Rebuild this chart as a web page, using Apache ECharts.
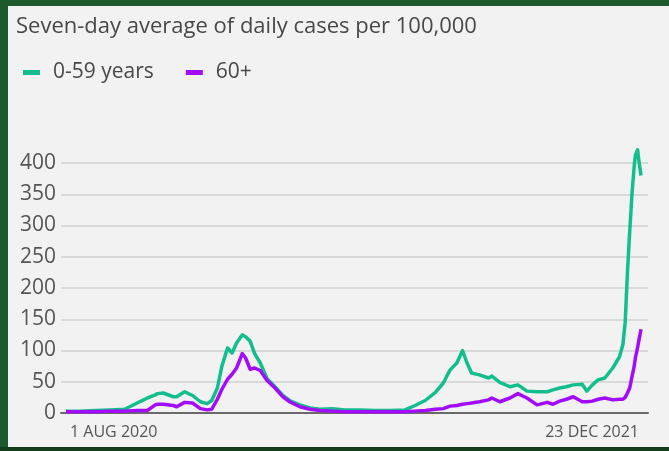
<!DOCTYPE html>
<html>
<head>
<meta charset="utf-8">
<script src="https://cdn.jsdelivr.net/npm/echarts@6/dist/echarts.min.js"></script>
<style>
  html, body { margin: 0; padding: 0; }
  body { width: 669px; height: 451px; background: #1c5a2d; position: relative; overflow: hidden; }
  #panel { position: absolute; left: 8px; top: 6px; width: 661px; height: 441px; background: #f2f2f2; }
  #strip { position: absolute; left: 0; top: 447px; width: 669px; height: 4px; background: #143d1e; }
  #chart { position: absolute; left: 0; top: 0; width: 669px; height: 451px; }
</style>
</head>
<body>
<div id="panel"></div>
<div id="strip"></div>
<div id="chart"></div>
<script>
const dates = [
  '2020-08-01', '2020-08-13', '2020-08-27', '2020-09-09', '2020-09-22', '2020-10-03',
  '2020-10-12', '2020-10-19', '2020-10-21', '2020-10-26', '2020-11-04', '2020-11-07',
  '2020-11-14', '2020-11-21', '2020-11-28', '2020-12-04', '2020-12-08', '2020-12-13',
  '2020-12-17', '2020-12-22', '2020-12-26', '2020-12-30', '2021-01-04', '2021-01-07',
  '2021-01-11', '2021-01-15', '2021-01-20', '2021-01-26', '2021-02-02', '2021-02-09',
  '2021-02-15', '2021-02-24', '2021-03-05', '2021-03-14', '2021-03-25', '2021-04-05',
  '2021-04-18', '2021-05-02', '2021-05-15', '2021-05-28', '2021-06-06', '2021-06-15',
  '2021-06-24', '2021-07-01', '2021-07-07', '2021-07-13', '2021-07-18', '2021-07-22',
  '2021-07-26', '2021-08-02', '2021-08-10', '2021-08-13', '2021-08-20', '2021-08-29',
  '2021-09-05', '2021-09-13', '2021-09-22', '2021-10-01', '2021-10-06', '2021-10-12',
  '2021-10-18', '2021-10-24', '2021-11-01', '2021-11-05', '2021-11-10', '2021-11-15',
  '2021-11-21', '2021-11-28', '2021-12-04', '2021-12-07', '2021-12-09', '2021-12-11',
  '2021-12-13', '2021-12-15', '2021-12-17', '2021-12-18', '2021-12-20', '2021-12-21',
  '2021-12-23'
];
// 0-59 years
const young = [
  3, 3, 4, 5, 6, 16,
  24, 29, 31, 32, 26, 26,
  34, 28, 18, 15, 20, 40,
  75, 104, 96, 112, 125, 122,
  115, 95, 80, 55, 42, 28,
  20, 13, 8, 6, 7, 5,
  5, 4, 4, 5, 12, 20,
  33, 48, 69, 80, 100, 80,
  64, 61, 56, 59, 49, 42,
  45, 35, 34, 34, 37, 40,
  42, 45, 46, 35, 45, 53,
  56, 72, 90, 110, 145, 225,
  290, 350, 395, 412, 421, 405,
  380
];
// 60+
const older = [
  2, 2, 2, 3, 3, 4,
  4, 13, 14, 14, 12, 10,
  17, 16, 7, 5, 6, 22,
  38, 54, 62, 72, 95, 88,
  70, 72, 68, 52, 40, 26,
  18, 10, 6, 4, 3, 2,
  2, 2, 2, 2, 3, 4,
  6, 7, 11, 12, 14, 15,
  16, 18, 21, 24, 18, 24,
  31, 24, 13, 17, 14, 19,
  22, 26, 18, 18, 19, 22,
  24, 21, 22, 22, 25, 32,
  40, 58, 75, 88, 105, 115,
  134
];
const startDate = '2020-08-01';
const endDate = '2021-12-23';
const startLabel = '1 AUG 2020';
const endLabel = '23 DEC 2021';

const font = '"Open Sans", Roboto, sans-serif';
const green = '#12bf8c';
const purple = '#a20cfa';

const chart = echarts.init(document.getElementById('chart'), null, { renderer: 'canvas' });

const toTime = d => new Date(d + 'T00:00:00Z').getTime();
const pairs = vals => dates.map((d, i) => [toTime(d), vals[i]]);
const tMin = toTime(startDate);
const tMax = toTime(endDate);

// one label axis per end label, so each can be aligned to its own edge
const labelAxis = (value, text, align, pad) => ({
  gridIndex: 1, type: 'value', min: tMin, max: tMax, position: 'bottom', offset: 0,
  axisLine: { show: false }, axisTick: { show: false }, splitLine: { show: false },
  axisLabel: {
    customValues: [value], align: align, margin: 11, fontSize: 16, color: '#555',
    fontFamily: font, padding: pad, formatter: () => text
  }
});

chart.setOption({
  backgroundColor: 'transparent',
  animation: false,
  textStyle: { fontFamily: font },
  title: {
    text: 'Seven-day average of daily cases per 100,000',
    left: 11,
    top: 11,
    textStyle: { fontFamily: font, fontSize: 22, fontWeight: 'normal', color: '#484848' }
  },
  legend: {
    left: 18,
    top: 57,
    icon: 'rect',
    itemWidth: 17,
    itemHeight: 5,
    itemGap: 32,
    textStyle: { fontFamily: font, fontSize: 21, color: '#484848', padding: [0, 0, 0, 8] },
    data: ['0-59 years', '60+']
  },
  grid: [
    { left: 61, right: 21, top: 163, bottom: 38 },
    { left: 66, right: 28, top: 163, bottom: 38 }
  ],
  xAxis: [
    {
      gridIndex: 0, type: 'value', min: 0, max: 1,
      axisLine: { show: true, lineStyle: { color: '#6a6a6a', width: 2 } },
      axisTick: { show: false }, axisLabel: { show: false }, splitLine: { show: false }
    },
    {
      gridIndex: 1, type: 'value', min: tMin, max: tMax, show: false
    },
    labelAxis(tMin, startLabel, 'left', [0, 0, 0, 4]),
    labelAxis(tMax, endLabel, 'right', [0, 2, 0, 0])
  ],
  yAxis: [
    {
      gridIndex: 0, type: 'value', min: 0, max: 400, interval: 50,
      axisLine: { show: false }, axisTick: { show: false },
      axisLabel: { fontSize: 21, color: '#555', margin: 5, fontFamily: font },
      splitLine: { lineStyle: { color: '#d9d9d9', width: 2 } }
    },
    { gridIndex: 1, type: 'value', min: 0, max: 400, show: false }
  ],
  series: [
    {
      name: '0-59 years', type: 'line', xAxisIndex: 1, yAxisIndex: 1,
      showSymbol: false, symbol: 'none', clip: false,
      itemStyle: { color: green },
      lineStyle: { color: green, width: 3.5, join: 'round' },
      data: pairs(young)
    },
    {
      name: '60+', type: 'line', xAxisIndex: 1, yAxisIndex: 1,
      showSymbol: false, symbol: 'none', clip: false,
      itemStyle: { color: purple },
      lineStyle: { color: purple, width: 3.5, join: 'round' },
      data: pairs(older)
    }
  ]
});
</script>
</body>
</html>
